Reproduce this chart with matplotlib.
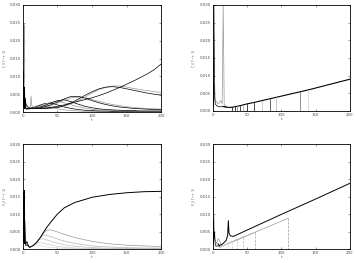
import numpy as np
import matplotlib.pyplot as plt

# values in units of 1e-3
# ---- top left ----
tl_t = [5, 10, 15, 20, 25, 30, 40, 50, 60, 70, 80, 90, 100, 110, 120, 130, 140, 150, 160, 170, 180, 190, 200]
tl_rise = [1.0, 0.9, 1.0, 1.0, 1.0, 1.1, 1.3, 1.6, 2.0, 2.5, 3.0, 3.5, 4.0, 4.6, 5.3, 6.1, 6.9, 7.8, 8.7, 9.7, 10.7, 11.9, 13.5]
tl_hump_a = [1.0, 1.0, 1.0, 1.0, 1.0, 1.0, 1.1, 1.3, 1.8, 2.6, 3.6, 4.7, 5.7, 6.5, 7.0, 7.1, 6.9, 6.5, 6.1, 5.7, 5.3, 5.0, 4.7]
tl_hump_b = [1.0, 1.0, 1.0, 1.0, 1.0, 1.0, 1.1, 1.2, 1.6, 2.3, 3.2, 4.2, 5.3, 6.3, 6.9, 7.3, 7.3, 7.0, 6.6, 6.3, 6.0, 5.7, 5.5]
tl_hump_c = [1.0, 1.0, 1.0, 1.1, 1.2, 1.4, 2.0, 2.8, 3.7, 4.4, 4.4, 3.9, 3.2, 2.6, 2.1, 1.7, 1.4, 1.2, 1.0, 0.9, 0.8, 0.7, 0.7]
tl_hump_d = [1.0, 1.0, 1.0, 1.1, 1.2, 1.3, 1.8, 2.5, 3.3, 4.0, 4.2, 4.0, 3.5, 3.0, 2.5, 2.1, 1.8, 1.5, 1.3, 1.1, 1.0, 0.9, 0.8]
tl_hump_e = [1.0, 1.0, 1.1, 1.2, 1.4, 1.7, 2.5, 3.2, 3.4, 2.9, 2.2, 1.6, 1.2, 0.9, 0.7, 0.6, 0.5, 0.4, 0.4, 0.3, 0.3, 0.3, 0.3]
tl_hump_f = [1.0, 1.0, 1.1, 1.3, 1.6, 2.0, 2.7, 3.0, 2.6, 2.0, 1.5, 1.1, 0.8, 0.6, 0.5, 0.4, 0.3, 0.3, 0.3, 0.2, 0.2, 0.2, 0.2]
tl_hump_g = [1.0, 1.0, 1.2, 1.5, 1.9, 2.3, 2.5, 2.0, 1.4, 1.0, 0.7, 0.5, 0.4, 0.3, 0.3, 0.2, 0.2, 0.2, 0.2, 0.2, 0.2, 0.2, 0.2]
tl_hump_h = [1.0, 1.1, 1.4, 1.8, 2.0, 1.9, 1.4, 0.9, 0.6, 0.4, 0.3, 0.2, 0.2, 0.2, 0.1, 0.1, 0.1, 0.1, 0.1, 0.1, 0.1, 0.1, 0.1]
tl_spike_t = [0, 0.5, 1, 1.5, 2, 2.5, 3, 3.5, 4, 5, 8, 11, 12, 13, 15]
tl_spike_gray = [3.0, 5.0, 6.0, 9.0, 24.5, 8.0, 3.0, 4.0, 2.0, 1.5, 1.2, 1.5, 4.5, 1.8, 1.2]
tl_spike_black = [5.0, 2.0, 11.5, 3.0, 7.0, 2.0, 4.0, 1.5, 3.0, 2.0, 1.3, 1.1, 1.2, 1.1, 1.0]
tl_spike_black2 = [2.0, 7.0, 1.5, 6.0, 1.0, 5.0, 1.0, 3.5, 1.0, 0.8, 0.9, 1.0, 1.0, 1.0, 1.0]

# ---- top right ----
tr_t = [15, 20, 25, 30, 40, 50, 60, 80, 100, 120, 140, 160, 180, 200]
tr_line = [1.3, 1.1, 1.0, 1.1, 1.5, 2.0, 2.4, 3.3, 4.2, 5.1, 6.0, 7.0, 8.0, 9.0]
tr_drop_t = [28, 32, 36, 40, 45, 50, 60, 72, 83, 93, 128, 139]
tr_drop_h = [1.05, 1.15, 1.3, 1.5, 1.75, 2.0, 2.4, 2.95, 3.45, 3.9, 5.5, 6.0]
tr_drop_c = ['k', 'k', '0.5', 'k', '0.6', 'k', 'k', '0.75', '0.2', '0.7', '0.4', '0.8']
tr_spike_t = [0, 0.5, 1, 1.5, 2, 3, 4, 6, 8, 10, 12, 14, 15.5, 17, 20]
tr_spike_gray = [4.0, 6.5, 8.0, 3.0, 6.0, 7.5, 3.0, 2.5, 2.0, 2.5, 3.0, 2.0, 30.0, 1.8, 1.3]
tr_spike_black = [3.0, 1.0, 5.0, 1.5, 30.0, 4.0, 2.0, 1.5, 1.3, 1.2, 1.2, 1.2, 1.2, 1.2, 1.1]

# ---- bottom left ----
bl_t = [10, 15, 20, 25, 30, 35, 40, 50, 60, 75, 100, 125, 150, 175, 200]
bl_main = [0.5, 1.0, 1.9, 3.2, 4.8, 6.3, 7.6, 10.0, 11.8, 13.3, 14.8, 15.6, 16.1, 16.4, 16.5]
bl_g1 = [0.5, 1.0, 1.9, 3.2, 4.6, 5.4, 5.5, 4.9, 4.2, 3.3, 2.2, 1.5, 1.1, 0.9, 0.7]
bl_g2 = [0.5, 1.0, 1.9, 3.2, 4.0, 3.9, 3.6, 2.9, 2.3, 1.6, 0.9, 0.6, 0.4, 0.3, 0.3]
bl_g3 = [0.5, 1.0, 1.9, 2.9, 2.9, 2.6, 2.3, 1.7, 1.2, 0.8, 0.4, 0.25, 0.2, 0.15, 0.1]
bl_g4 = [0.5, 1.0, 1.8, 1.8, 1.6, 1.4, 1.2, 0.8, 0.5, 0.3, 0.15, 0.1, 0.1, 0.1, 0.1]
bl_g5 = [0.5, 1.1, 1.2, 1.0, 0.8, 0.6, 0.5, 0.3, 0.2, 0.1, 0.1, 0.1, 0.1, 0.1, 0.1]
bl_spike_t = [0, 0.5, 1, 1.5, 2, 2.5, 3, 4, 6, 8, 10]
bl_spike_a = [2.0, 16.5, 3.0, 15.5, 2.5, 16.8, 2.0, 1.5, 2.2, 1.0, 0.5]
bl_spike_b = [1.0, 8.0, 12.0, 5.0, 14.0, 6.0, 3.0, 2.0, 1.5, 0.8, 0.5]
bl_spike_c = [9.0, 3.0, 16.0, 2.0, 11.0, 1.5, 8.0, 1.0, 1.2, 0.9, 0.5]

# ---- bottom right ----
br_t = [8, 10, 15, 20, 22, 23, 24, 26, 30, 50, 100, 150, 200]
br_main = [1.5, 1.0, 1.5, 2.5, 4.0, 8.1, 4.5, 3.8, 3.6, 5.4, 9.9, 14.3, 18.8]
br_g_end = [110, 62, 45, 35, 28, 22]
br_g_top = [8.8, 4.8, 3.5, 2.7, 2.0, 1.5]
br_g_c = ['0.6', '0.65', '0.7', '0.75', '0.8', '0.85']
br_spike_t = [0, 0.5, 1, 1.5, 2, 3, 4, 6, 8, 10, 12, 15]
br_spike_gray = [5.0, 9.0, 30.0, 6.0, 10.0, 3.0, 2.5, 1.5, 3.0, 2.5, 1.5, 1.0]
br_spike_black = [4.0, 1.0, 8.0, 1.5, 3.0, 5.0, 1.0, 0.8, 1.0, 0.7, 0.8, 0.9]

s = 1e-3

fig = plt.figure(figsize=(3.56, 2.63), dpi=100)
ax_tl = fig.add_axes([0.064, 0.574, 0.389, 0.407])
ax_tr = fig.add_axes([0.597, 0.578, 0.386, 0.403])
ax_bl = fig.add_axes([0.064, 0.053, 0.389, 0.399])
ax_br = fig.add_axes([0.597, 0.053, 0.386, 0.399])

lw = 0.5

# top left
ax_tl.plot(tl_spike_t, np.array(tl_spike_gray) * s, color='0.6', lw=lw)
ax_tl.plot(tl_spike_t, np.array(tl_spike_black) * s, color='k', lw=lw)
ax_tl.plot(tl_spike_t, np.array(tl_spike_black2) * s, color='k', lw=lw)
for y, c in [(tl_hump_h, '0.6'), (tl_hump_g, 'k'), (tl_hump_f, '0.6'), (tl_hump_e, 'k'),
             (tl_hump_d, '0.6'), (tl_hump_c, 'k'), (tl_hump_b, '0.6'), (tl_hump_a, 'k'),
             (tl_rise, 'k')]:
    ax_tl.plot(tl_t, np.array(y) * s, color=c, lw=lw)

# top right
ax_tr.plot(tr_spike_t, np.array(tr_spike_gray) * s, color='0.6', lw=lw)
ax_tr.plot(tr_spike_t, np.array(tr_spike_black) * s, color='k', lw=lw)
ax_tr.plot(tr_t, np.array(tr_line) * s, color='k', lw=0.8)
for t, h, c in zip(tr_drop_t, tr_drop_h, tr_drop_c):
    ax_tr.plot([t, t], [h * s, 0], color=c, lw=lw)

# bottom left
ax_bl.plot(bl_spike_t, np.array(bl_spike_b) * s, color='0.3', lw=lw)
ax_bl.plot(bl_spike_t, np.array(bl_spike_c) * s, color='k', lw=lw)
ax_bl.plot(bl_spike_t, np.array(bl_spike_a) * s, color='k', lw=lw)
for y, c in [(bl_g5, '0.85'), (bl_g4, '0.8'), (bl_g3, '0.75'), (bl_g2, '0.7'), (bl_g1, '0.6')]:
    ax_bl.plot(bl_t, np.array(y) * s, color=c, lw=lw)
ax_bl.plot(bl_t, np.array(bl_main) * s, color='k', lw=0.7)

# bottom right
ax_br.plot(br_spike_t, np.array(br_spike_gray) * s, color='0.6', lw=lw)
ax_br.plot(br_spike_t, np.array(br_spike_black) * s, color='k', lw=lw)
for te, top, c in zip(br_g_end, br_g_top, br_g_c):
    ax_br.plot([10, te], [0.5 * s, top * s], color=c, lw=lw)
    ax_br.plot([te, te], [top * s, 0], color=c, lw=lw, ls='--')
ax_br.plot(br_t, np.array(br_main) * s, color='k', lw=0.7)

labels = [r'$\Gamma_1/(\Gamma^N+1)$', r'$\Gamma_2/(\Gamma^N+1)$',
          r'$F_1/(\Gamma^N+1)$', r'$F_2/(\Gamma^N+1)$']
for ax, lab in zip([ax_tl, ax_tr, ax_bl, ax_br], labels):
    ax.set_xlim(0, 200)
    ax.set_ylim(0, 0.03)
    ax.set_xticks([0, 50, 100, 150, 200])
    ax.set_yticks([0, 0.005, 0.01, 0.015, 0.02, 0.025, 0.03])
    ax.set_yticklabels(['0.000', '0.005', '0.010', '0.015', '0.020', '0.025', '0.030'])
    ax.tick_params(direction='in', top=True, right=True, labelsize=2.8, length=1.5,
                   width=0.4, pad=1.2, colors='0.3')
    ax.set_xlabel('t', fontsize=3, labelpad=0.5, color='0.4')
    ax.set_ylabel(lab, fontsize=2.5, color='0.4')
    ax.yaxis.set_label_coords(-0.095, 0.5)
    for sp in ax.spines.values():
        sp.set_linewidth(0.6)

plt.savefig('out.png', dpi=100)
